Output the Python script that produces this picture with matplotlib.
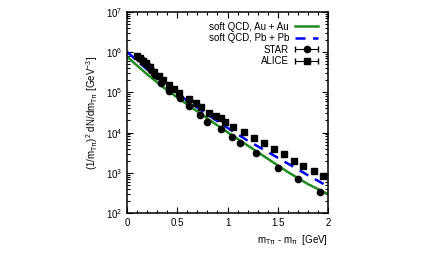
import numpy as np
import matplotlib
matplotlib.use("Agg")
import matplotlib.pyplot as plt
from matplotlib.ticker import MultipleLocator, LogLocator, NullFormatter
from matplotlib.legend_handler import HandlerErrorbar

plt.rcParams['font.family'] = ['Liberation Sans', 'DejaVu Sans']
plt.rcParams['mathtext.fontset'] = 'custom'
plt.rcParams['mathtext.rm'] = 'Liberation Sans'
plt.rcParams['mathtext.it'] = 'Liberation Sans'

# soft QCD curves (log10 of yield)
curve_x = [0.0, 0.2, 0.4, 0.6, 0.8, 1.0, 1.2, 1.4, 1.6, 1.8, 2.0]
auau_log = [5.888, 5.45, 5.05, 4.70, 4.35, 4.01, 3.68, 3.35, 3.02, 2.72, 2.47]
pbpb_log = [6.01, 5.57, 5.16, 4.79, 4.45, 4.12, 3.80, 3.52, 3.23, 2.94, 2.66]

# STAR
star_x = [0.11, 0.14, 0.17, 0.20, 0.24, 0.28, 0.335, 0.42, 0.527, 0.62, 0.726,
          0.793, 0.932, 1.042, 1.124, 1.284, 1.505, 1.699, 1.920]
star_y = [7.8e5, 6.6e5, 5.6e5, 4.7e5, 3.7e5, 2.7e5, 1.74e5, 1.08e5, 7.1e4, 4.6e4,
          2.74e4, 1.87e4, 1.21e4, 7.9e3, 5.4e3, 3.05e3, 1.34e3, 6.9e2, 3.4e2]

# ALICE
alice_x = [0.10, 0.13, 0.16, 0.19, 0.23, 0.27, 0.32, 0.36, 0.42, 0.47, 0.52, 0.62,
           0.69, 0.74, 0.82, 0.89, 0.94, 0.98, 1.05, 1.16, 1.26, 1.36, 1.46, 1.56,
           1.66, 1.75, 1.86, 1.95]
alice_y = [8.0e5, 7.0e5, 6.1e5, 5.3e5, 4.3e5, 3.3e5, 2.6e5, 2.0e5, 1.55e5, 1.2e5,
           9.8e4, 6.7e4, 5.3e4, 4.4e4, 3.1e4, 2.6e4, 2.25e4, 1.85e4, 1.4e4, 1.02e4,
           7.2e3, 5.4e3, 3.85e3, 2.9e3, 2.0e3, 1.48e3, 1.11e3, 8.3e2]

fig = plt.figure(figsize=(4.31, 2.58), dpi=100)
ax = fig.add_axes([0.2947, 0.1744, 0.4663, 0.7791])

l1, = ax.plot(curve_x, 10 ** np.array(auau_log), color='#228b22', lw=1.8, zorder=2)
l2, = ax.plot(curve_x, 10 ** np.array(pbpb_log), color='#0000ee', lw=1.8,
              dashes=(4, 3), zorder=2)
ax.plot(star_x, star_y, 'o', color='black', ms=4.5, zorder=3)
ax.plot(alice_x, alice_y, 's', color='black', ms=4.5, zorder=3)

# legend handles in gnuplot style (marker with horizontal bar)
h3 = ax.errorbar([-10], [1e4], xerr=[1], fmt='o', color='black', ms=4.5,
                 capsize=2, elinewidth=0.8)
h4 = ax.errorbar([-10], [1e4], xerr=[1], fmt='s', color='black', ms=4.5,
                 capsize=2, elinewidth=0.8)

ax.set_yscale('log')
ax.set_xlim(0, 2)
ax.set_ylim(1e2, 1e7)
ax.xaxis.set_major_locator(MultipleLocator(0.5))
ax.xaxis.set_minor_locator(MultipleLocator(0.1))
ax.yaxis.set_major_locator(LogLocator(base=10, numticks=10))
ax.yaxis.set_minor_locator(LogLocator(base=10, subs=np.arange(2, 10), numticks=10))
ax.yaxis.set_minor_formatter(NullFormatter())
ax.set_xticks([0, 0.5, 1, 1.5, 2])
ax.set_xticklabels(['0', '0.5', '1', '1.5', '2'])
ax.tick_params(which='both', direction='in', top=True, right=True, labelsize=7,
               width=0.8)
ax.tick_params(which='major', length=4)
ax.tick_params(which='minor', length=2)
for s in ax.spines.values():
    s.set_linewidth(1.1)

ax.set_xlabel(r'm$_{\mathrm{T\pi}}$ - m$_{\mathrm{\pi}}$  [GeV]', fontsize=7,
              loc='right')
ax.set_ylabel(r'(1/m$_{\mathrm{T\pi}}$)$^2$ dN/dm$_{\mathrm{T\pi}}$ [GeV$^{-3}$]',
              fontsize=7)

eb = HandlerErrorbar(xerr_size=1.15)
ax.legend([l1, l2, h3, h4],
          ['soft QCD, Au + Au', 'soft QCD, Pb + Pb', 'STAR', 'ALICE'],
          handler_map={h3: eb, h4: eb},
          loc='upper right', frameon=False, markerfirst=False, fontsize=7,
          handlelength=2.4, handletextpad=0.6, labelspacing=0.15,
          borderaxespad=0.6)

fig.savefig('out.png', dpi=100)
